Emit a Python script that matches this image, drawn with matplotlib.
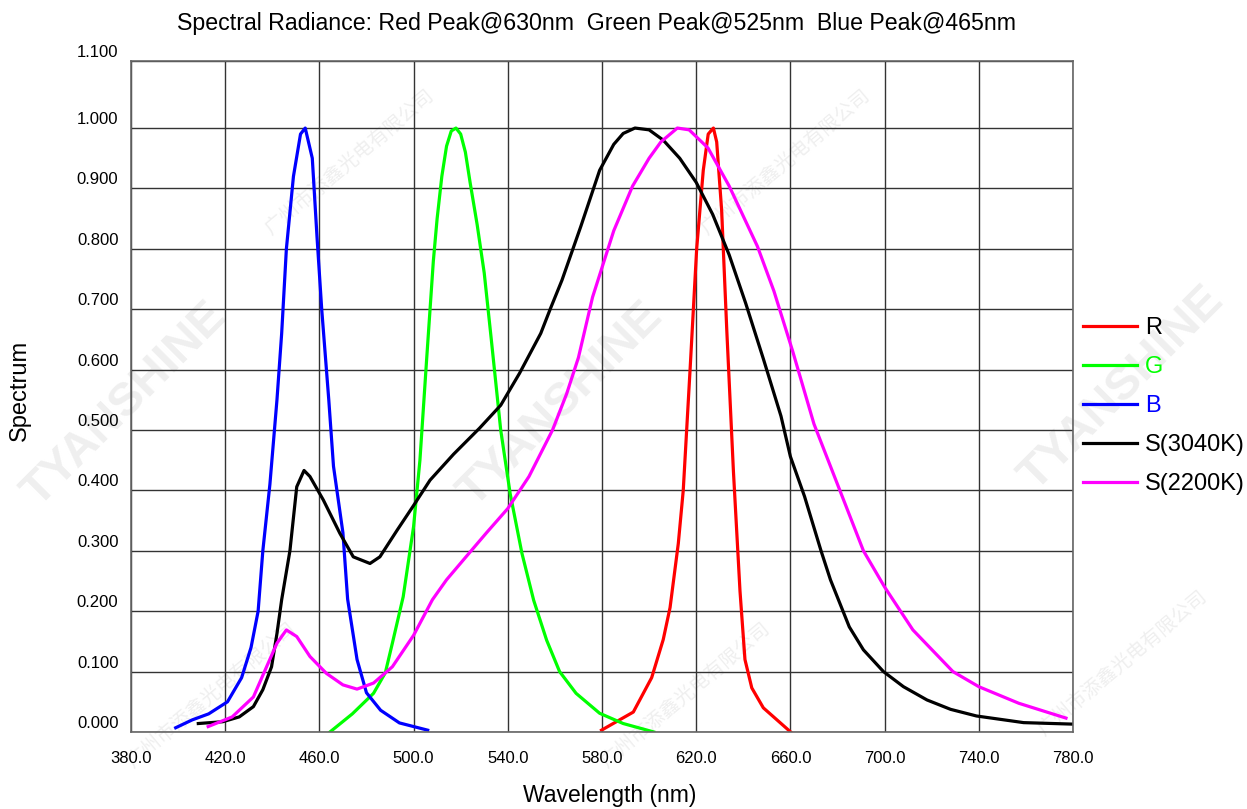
import numpy as np
import matplotlib
matplotlib.use('Agg')
import matplotlib.pyplot as plt
from matplotlib.transforms import ScaledTranslation

plt.rcParams['font.family'] = ['Liberation Sans', 'DejaVu Sans']

# ---- data ----
R_wl = [579.8, 593.3, 601.1, 606, 608.9, 612.4, 614.5, 617.4, 620.2, 623, 625.1, 627.3,
        628.7, 630.8, 633, 635.8, 638.6, 640.7, 643.6, 648.5, 660.1]
R = [0.003, 0.033, 0.09, 0.153, 0.206, 0.312, 0.40, 0.60, 0.80, 0.93, 0.99, 1.0,
     0.977, 0.864, 0.664, 0.432, 0.233, 0.12, 0.073, 0.04, 0.0]

G_wl = [464.5, 474, 483, 488, 491, 495.6, 500, 502.7, 505.6, 508.4, 510, 512, 514, 516, 518,
        520, 522, 524, 527, 530, 533, 537, 541, 546, 551, 556.5, 562, 569, 579, 589, 602]
G = [0.0, 0.03, 0.064, 0.098, 0.147, 0.224, 0.34, 0.45, 0.62, 0.78, 0.85, 0.92, 0.97, 0.995, 1.0,
     0.99, 0.96, 0.91, 0.84, 0.76, 0.65, 0.50, 0.395, 0.296, 0.218, 0.152, 0.10, 0.064, 0.031, 0.014, 0.0]

B_wl = [399, 406, 413, 421, 427, 431, 434, 436, 439, 442, 444, 446, 449, 452, 454, 457, 459,
        461, 464, 466, 470, 472, 476, 480, 486, 494, 506]
B = [0.007, 0.02, 0.03, 0.05, 0.09, 0.14, 0.20, 0.30, 0.41, 0.55, 0.66, 0.80, 0.92, 0.99, 1.0,
     0.95, 0.82, 0.70, 0.55, 0.44, 0.33, 0.22, 0.12, 0.065, 0.036, 0.015, 0.003]

S3040_wl = [408.6, 419, 426, 432, 436, 439.7, 442, 444, 447.5, 450.4, 453.5, 456, 461.7, 468.7,
            474.4, 481.5, 485.7, 493, 500, 507, 517, 528, 537, 545, 554, 558, 563, 571, 579, 585,
            589, 594, 600, 606, 613, 620, 627, 634, 641, 648.5, 656, 660, 666, 673, 677, 685, 691,
            699.5, 708, 718, 728, 739, 759, 780]
S3040 = [0.014, 0.017, 0.025, 0.042, 0.07, 0.108, 0.163, 0.219, 0.30, 0.406, 0.433, 0.423, 0.384,
         0.329, 0.29, 0.279, 0.29, 0.334, 0.375, 0.417, 0.46, 0.503, 0.541, 0.594, 0.66, 0.70,
         0.748, 0.837, 0.93, 0.973, 0.991, 1.0, 0.997, 0.98, 0.95, 0.91, 0.857, 0.79, 0.71, 0.618,
         0.523, 0.456, 0.39, 0.30, 0.252, 0.174, 0.136, 0.10, 0.075, 0.053, 0.0375, 0.0265, 0.0155, 0.013]

S2200_wl = [412.8, 423, 432, 437.6, 442, 446, 450.4, 456, 463, 470, 476, 483, 491, 500, 508, 514,
            524, 531, 540, 549, 559, 565, 570, 576, 585, 593, 600, 605, 612, 617, 625, 634, 646,
            653, 661, 670, 680, 691, 700, 712, 729, 740, 757, 777]
S2200 = [0.009, 0.025, 0.058, 0.108, 0.147, 0.169, 0.158, 0.125, 0.097, 0.078, 0.071, 0.081, 0.108,
         0.16, 0.219, 0.252, 0.298, 0.33, 0.37, 0.423, 0.50, 0.56, 0.62, 0.72, 0.83, 0.904, 0.95,
         0.977, 1.0, 0.997, 0.967, 0.904, 0.804, 0.73, 0.63, 0.51, 0.41, 0.30, 0.24, 0.169, 0.10,
         0.075, 0.0475, 0.023]

x_ticks = [380, 420, 460, 500, 540, 580, 620, 660, 700, 740, 780]
y_ticks = [0.0, 0.1, 0.2, 0.3, 0.4, 0.5, 0.6, 0.7, 0.8, 0.9, 1.0]
y_top = 1.111

fig = plt.figure(figsize=(12.47, 8.09), dpi=100)
ax = fig.add_axes([0.105, 0.0952, 0.7555, 0.8294])
ax.set_zorder(2)
ax.patch.set_alpha(0)

# faint watermarks, kept behind the axes
wm_col = '#efefef'
for (wx, wy) in [(0.10, 0.50), (0.45, 0.50), (0.90, 0.52)]:
    fig.text(wx, wy, 'TYANSHINE', rotation=45, fontsize=34, fontweight='bold',
             color=wm_col, ha='center', va='center', zorder=0)
for (wx, wy) in [(0.28, 0.80), (0.63, 0.80), (0.17, 0.14), (0.55, 0.14), (0.90, 0.18)]:
    fig.text(wx, wy, '广州市添鑫光电有限公司', rotation=40, fontsize=14,
             family=['Noto Sans CJK SC', 'DejaVu Sans'], color=wm_col,
             ha='center', va='center', zorder=0)

lw = 2.3
ax.plot(R_wl, R, color='#ff0000', lw=lw, label='R')
ax.plot(G_wl, G, color='#00ff00', lw=lw, label='G')
ax.plot(B_wl, B, color='#0000ff', lw=lw, label='B')
ax.plot(S3040_wl, S3040, color='black', lw=lw, label='S(3040K)')
ax.plot(S2200_wl, S2200, color='#ff00ff', lw=lw, label='S(2200K)')

ax.set_xlim(380, 780)
ax.set_ylim(0, y_top)
ax.set_xticks(x_ticks)
ax.set_xticklabels(['%.1f' % v for v in x_ticks], fontsize=12)
ax.set_yticks(y_ticks + [y_top])
ax.set_yticklabels(['%.3f' % v for v in y_ticks] + ['1.100'], fontsize=12)
ax.tick_params(length=0)
ax.tick_params(axis='x', pad=14)
ax.tick_params(axis='y', pad=9)
off = ScaledTranslation(0, 10 / 100, fig.dpi_scale_trans)
for lab in ax.get_yticklabels():
    lab.set_transform(lab.get_transform() + off)

ax.grid(True, color='#333333', lw=1.0)
for s in ax.spines.values():
    s.set_color('#666666')
    s.set_linewidth(1.2)

fig.text(0.4787, 0.971, 'Spectral Radiance: Red Peak@630nm  Green Peak@525nm  Blue Peak@465nm',
         fontsize=16.7, ha='center', va='center')
fig.text(0.489, 0.0173, 'Wavelength (nm)', fontsize=16.5, ha='center', va='center')
fig.text(0.016, 0.518, 'Spectrum', fontsize=17, rotation=90, ha='center', va='center')

leg = ax.legend(loc='center left', bbox_to_anchor=(1083 / 1247, 0.498),
                bbox_transform=fig.transFigure, frameon=False, fontsize=17,
                handlelength=2.3, handletextpad=0.33, labelspacing=0.72,
                borderpad=0, borderaxespad=0)
leg.get_texts()[1].set_color('#00ff00')
leg.get_texts()[2].set_color('#0000ff')

fig.savefig('out.png', dpi=100)
